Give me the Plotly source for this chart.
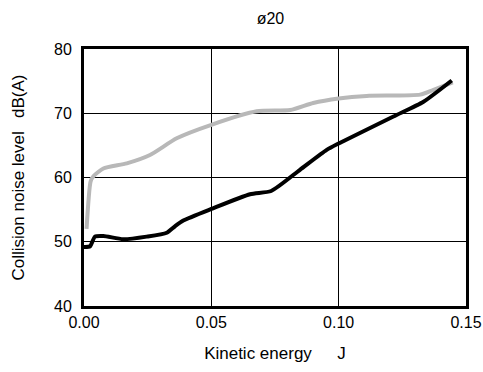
import plotly.graph_objects as go

# Gray series
gray_x = [0.001, 0.0026, 0.0037, 0.0076, 0.0168, 0.0259, 0.0364, 0.050, 0.0678, 0.081,
          0.090, 0.100, 0.111, 0.132, 0.137, 0.1448]
gray_y = [52.0, 59.4, 60.2, 61.4, 62.2, 63.5, 66.1, 68.2, 70.3, 70.5,
          71.6, 72.3, 72.7, 72.9, 73.6, 74.8]

# Black series
black_x = [0.0, 0.0024, 0.0043, 0.0076, 0.0154, 0.0246, 0.0325, 0.0357, 0.039, 0.050,
           0.0652, 0.0735, 0.0848, 0.0953, 0.100, 0.1215, 0.1333, 0.1444]
black_y = [49.2, 49.3, 50.8, 50.9, 50.4, 50.8, 51.4, 52.4, 53.3, 55.1,
           57.4, 57.9, 61.2, 64.3, 65.3, 69.5, 71.8, 75.1]

x_ticks = [0.00, 0.05, 0.10, 0.15]
y_ticks = [40, 50, 60, 70, 80]

FONT = "Liberation Sans, Arial, sans-serif"

fig = go.Figure()
fig.add_trace(go.Scatter(x=gray_x, y=gray_y, mode="lines",
                         line=dict(color="#b8b8b8", width=4, shape="spline", smoothing=0.6),
                         showlegend=False))
fig.add_trace(go.Scatter(x=black_x, y=black_y, mode="lines",
                         line=dict(color="#000000", width=4, shape="spline", smoothing=0.6),
                         showlegend=False))

fig.update_layout(
    width=483, height=372,
    margin=dict(l=84, r=17, t=49, b=66, autoexpand=False),
    paper_bgcolor="white", plot_bgcolor="white",
    font=dict(family=FONT, size=16, color="black"),
    title=dict(text="ø20", xref="container", yref="container", x=0.56, xanchor="center",
               y=0.9516, yanchor="middle", font=dict(size=16), automargin=False),
)
fig.update_xaxes(range=[0, 0.15], tickvals=x_ticks, ticktext=[f"{v:.2f}" for v in x_ticks],
                 showgrid=True, gridcolor="black", gridwidth=1,
                 showline=True, linecolor="black", linewidth=3, mirror=True,
                 zeroline=False, ticks="", automargin=False, tickfont=dict(size=16),
                 title=dict(text="Kinetic energy\u2003\u2002J", standoff=17, font=dict(size=17)))
fig.update_yaxes(range=[40, 80], tickvals=y_ticks,
                 showgrid=True, gridcolor="black", gridwidth=1,
                 showline=True, linecolor="black", linewidth=3, mirror=True,
                 zeroline=False, ticks="", automargin=False, ticklabelstandoff=6,
                 tickfont=dict(size=16),
                 title=dict(text="Collision noise level\u2002 dB(A)", standoff=26, font=dict(size=17)))

fig.write_html("out.html", config={"displayModeBar": False},
               post_script="document.body.style.margin='0';document.body.style.overflow='hidden';")
